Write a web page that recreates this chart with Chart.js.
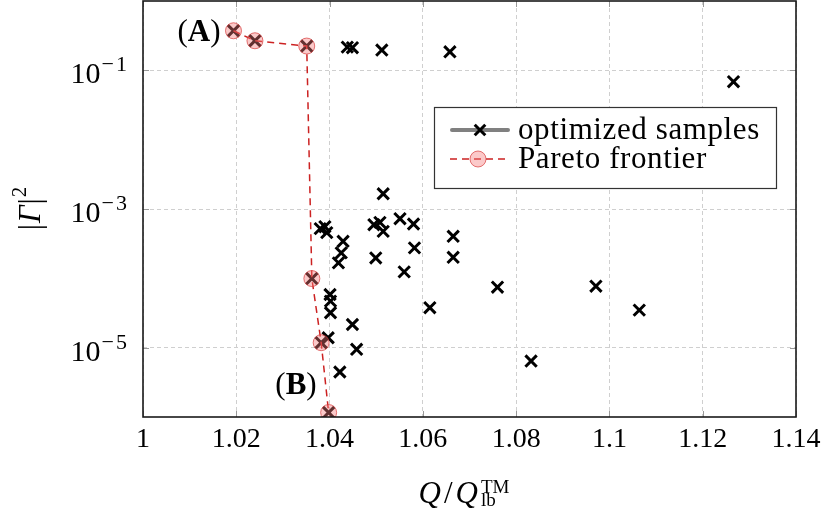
<!DOCTYPE html>
<html>
<head>
<meta charset="utf-8">
<script src="https://cdn.jsdelivr.net/npm/chart.js@4"></script>
<style>
html, body { margin: 0; padding: 0; background: #fff; }
</style>
</head>
<body>
<canvas id="myChart" width="831" height="526"></canvas>
<script>
// optimized samples (Q/Q_lb, |Gamma|^2)
var sampleQ = [1.0438, 1.0449, 1.0512, 1.0658, 1.1266,
  1.0515, 1.0380, 1.0390, 1.0394, 1.0429, 1.0425, 1.0419,
  1.0495, 1.0508, 1.0515, 1.0551, 1.0580, 1.0582, 1.0499, 1.0560,
  1.0665, 1.0665, 1.0760, 1.0615, 1.0832, 1.0971, 1.1064,
  1.0401, 1.0402, 1.0402, 1.0449, 1.0397, 1.0458, 1.0422];
var sampleG = [0.216, 0.212, 0.196, 0.185, 0.0686,
  1.66e-3, 5.21e-4, 5.56e-4, 4.56e-4, 3.42e-4, 2.33e-4, 1.67e-4,
  5.94e-4, 6.41e-4, 4.76e-4, 7.25e-4, 6.08e-4, 2.75e-4, 1.97e-4, 1.24e-4,
  4.04e-4, 2.01e-4, 7.45e-5, 3.77e-5, 6.41e-6, 7.7e-5, 3.48e-5,
  5.85e-5, 4.69e-5, 3.19e-5, 2.16e-5, 1.39e-5, 9.46e-6, 4.46e-6];

// pareto frontier (these are samples too)
var paretoQ = [1.0194, 1.0240, 1.0351, 1.0362, 1.0382, 1.0398];
var paretoG = [0.372, 0.267, 0.224, 9.93e-5, 1.18e-5, 1.16e-6];

var xTicks = [1, 1.02, 1.04, 1.06, 1.08, 1.1, 1.12, 1.14];
var xTickLabels = ['1', '1.02', '1.04', '1.06', '1.08', '1.1', '1.12', '1.14'];
var yTicks = [1e-5, 1e-3, 1e-1];
var yTickExp = ['\u22125', '\u22123', '\u22121'];

var legendLabels = ['optimized samples', 'Pareto frontier'];

var serif = '"Liberation Serif", "DejaVu Serif", serif';

function toPoints(xs, ys) {
  var pts = [];
  for (var i = 0; i < xs.length; i++) pts.push({ x: xs[i], y: ys[i] });
  return pts;
}

var samplePts = toPoints(sampleQ, sampleG).concat(toPoints(paretoQ, paretoG));
var paretoPts = toPoints(paretoQ, paretoG);

// frame, inner tick marks, y tick labels, axis titles, legend, (A)/(B)
var decor = {
  id: 'decor',
  beforeDatasetsDraw: function (chart) {
    var ctx = chart.ctx, a = chart.chartArea;
    var xs = chart.scales.x, ys = chart.scales.y;
    ctx.save();
    ctx.strokeStyle = '#999';
    ctx.lineWidth = 1;
    ctx.beginPath();
    xTicks.forEach(function (v) {
      var px = Math.round(xs.getPixelForValue(v)) + 0.5;
      ctx.moveTo(px, a.bottom); ctx.lineTo(px, a.bottom - 6);
      ctx.moveTo(px, a.top); ctx.lineTo(px, a.top + 6);
    });
    yTicks.forEach(function (v) {
      var py = Math.round(ys.getPixelForValue(v)) + 0.5;
      ctx.moveTo(a.left, py); ctx.lineTo(a.left + 6, py);
      ctx.moveTo(a.right, py); ctx.lineTo(a.right - 6, py);
    });
    ctx.stroke();
    ctx.restore();
  },
  afterDraw: function (chart) {
    var ctx = chart.ctx, a = chart.chartArea;
    var xs = chart.scales.x, ys = chart.scales.y;
    ctx.save();

    // frame
    ctx.strokeStyle = '#1a1a1a';
    ctx.lineWidth = 1.6;
    ctx.strokeRect(a.left, a.top, a.right - a.left, a.bottom - a.top);

    ctx.fillStyle = '#000';
    ctx.textBaseline = 'alphabetic';
    var big = '31px ' + serif, bigIt = 'italic 31px ' + serif;

    // y tick labels 10^-k
    yTicks.forEach(function (v, i) {
      var py = ys.getPixelForValue(v);
      ctx.font = '22px ' + serif;
      ctx.letterSpacing = '2px';
      var ew = ctx.measureText(yTickExp[i]).width;
      ctx.fillText(yTickExp[i], 129 - ew, py + 1);
      ctx.letterSpacing = '0px';
      ctx.font = '30px ' + serif;
      var bw = ctx.measureText('10').width;
      ctx.fillText('10', 129 - ew - bw - 1, py + 13);
    });

    // y title |Γ|^2
    ctx.save();
    ctx.translate(40, 208);
    ctx.rotate(-Math.PI / 2);
    var ytitle = [['|', '31px ' + serif, 0], ['\u0393', 'italic 31px ' + serif, 0], ['|', '31px ' + serif, 0], ['2', '21px ' + serif, -14]];
    var w = 0;
    ytitle.forEach(function (p) { ctx.font = p[1]; w += ctx.measureText(p[0]).width + 1; });
    var cx = -w / 2;
    ytitle.forEach(function (p) {
      ctx.font = p[1];
      ctx.fillText(p[0], cx, p[2]);
      cx += ctx.measureText(p[0]).width + 1;
    });
    ctx.restore();

    // x title Q/Q_lb^TM
    var xp = [['Q', bigIt], ['/', big], ['Q', bigIt]];
    var qw = 0;
    xp.forEach(function (p) { ctx.font = p[1]; qw += ctx.measureText(p[0]).width + 3; });
    ctx.font = '19px ' + serif;
    var sw = ctx.measureText('TM').width;
    var x0 = 465 - (qw + sw + 2) / 2, base = 503;
    xp.forEach(function (p) {
      ctx.font = p[1];
      ctx.fillText(p[0], x0, base);
      x0 += ctx.measureText(p[0]).width + 3;
    });
    ctx.font = '19px ' + serif;
    ctx.fillText('TM', x0, base - 10);
    ctx.fillText('lb', x0, base + 3);

    // (A) and (B)
    function tag(letter, rightX, midY) {
      var segs = [['(', '31px ' + serif], [letter, 'bold 31px ' + serif], [')', '31px ' + serif]];
      var tw = 0;
      segs.forEach(function (s) { ctx.font = s[1]; tw += ctx.measureText(s[0]).width; });
      var tx = rightX - tw;
      ctx.textBaseline = 'middle';
      segs.forEach(function (s) {
        ctx.font = s[1];
        ctx.fillText(s[0], tx, midY);
        tx += ctx.measureText(s[0]).width;
      });
      ctx.textBaseline = 'alphabetic';
    }
    var pA = paretoPts[0], pB = paretoPts[paretoPts.length - 1];
    tag('A', xs.getPixelForValue(pA.x) - 13, ys.getPixelForValue(pA.y) + 2);
    tag('B', xs.getPixelForValue(pB.x) - 12, ys.getPixelForValue(pB.y) - 27);

    // legend
    var L = 434, T = 107, R = 776, B = 188;
    ctx.fillStyle = '#fff';
    ctx.fillRect(L, T, R - L, B - T);
    ctx.strokeStyle = '#333';
    ctx.lineWidth = 1.2;
    ctx.strokeRect(L + 0.5, T + 0.5, R - L, B - T);

    var y1 = 130, y2 = 159;
    ctx.strokeStyle = '#808080';
    ctx.lineWidth = 4;
    ctx.lineCap = 'round';
    ctx.beginPath(); ctx.moveTo(452, y1); ctx.lineTo(508, y1); ctx.stroke();
    ctx.lineCap = 'butt';
    ctx.strokeStyle = '#000';
    ctx.lineWidth = 3;
    Chart.helpers.drawPoint(ctx, { pointStyle: 'crossRot', radius: 7.5, borderWidth: 3 }, 480, y1);

    ctx.strokeStyle = '#cc2222';
    ctx.lineWidth = 1.5;
    ctx.setLineDash([7, 5]);
    ctx.beginPath(); ctx.moveTo(450, y2); ctx.lineTo(508, y2); ctx.stroke();
    ctx.setLineDash([]);
    ctx.fillStyle = 'rgba(245, 120, 120, 0.4)';
    ctx.strokeStyle = 'rgba(215, 60, 60, 0.7)';
    ctx.lineWidth = 1;
    ctx.beginPath(); ctx.arc(478, y2, 8, 0, Math.PI * 2); ctx.fill(); ctx.stroke();

    ctx.fillStyle = '#000';
    ctx.font = '31px ' + serif;
    ctx.letterSpacing = '0.6px';
    ctx.fillText(legendLabels[0], 518, 139);
    ctx.fillText(legendLabels[1], 518, 168);
    ctx.letterSpacing = '0px';

    ctx.restore();
  }
};

var ctx = document.getElementById('myChart');
var myChart = new Chart(ctx, {
  type: 'scatter',
  data: {
    datasets: [
      {
        label: legendLabels[1],
        data: paretoPts,
        showLine: true,
        borderColor: '#cc2222',
        borderWidth: 1.5,
        borderDash: [7, 5],
        pointRadius: 8,
        pointHoverRadius: 8,
        pointBackgroundColor: 'rgba(245, 120, 120, 0.4)',
        pointBorderColor: 'rgba(215, 60, 60, 0.7)',
        pointBorderWidth: 1,
        order: 0
      },
      {
        label: legendLabels[0],
        data: samplePts,
        pointStyle: 'crossRot',
        pointRadius: 8,
        pointHoverRadius: 8,
        pointBorderWidth: 3,
        borderColor: '#000',
        backgroundColor: '#000',
        order: 1
      }
    ]
  },
  options: {
    responsive: false,
    animation: false,
    layout: { autoPadding: false, padding: { top: 1, right: 35, left: 0, bottom: 0 } },
    plugins: {
      legend: { display: false },
      tooltip: { enabled: false }
    },
    scales: {
      x: {
        type: 'linear',
        min: 1,
        max: 1.14,
        afterBuildTicks: function (axis) {
          axis.ticks = xTicks.map(function (v) { return { value: v }; });
        },
        afterFit: function (axis) {
          axis.height = 109;
          axis.paddingLeft = 0;
          axis.paddingRight = 0;
        },
        ticks: {
          padding: 6,
          maxRotation: 0,
          color: '#000',
          font: { family: serif, size: 28 },
          callback: function (v) { return xTickLabels[xTicks.indexOf(Math.round(v * 100) / 100)]; }
        },
        grid: { color: '#cfcfcf', lineWidth: 1, drawTicks: false },
        border: { display: false, dash: [4, 3] }
      },
      y: {
        type: 'logarithmic',
        min: 1e-6,
        max: 1,
        afterBuildTicks: function (axis) {
          axis.ticks = yTicks.map(function (v) { return { value: v }; });
        },
        afterFit: function (axis) {
          axis.width = 143;
          axis.paddingTop = 0;
          axis.paddingBottom = 0;
        },
        ticks: { display: false },
        grid: { color: '#cfcfcf', lineWidth: 1, drawTicks: false },
        border: { display: false, dash: [4, 3] }
      }
    }
  },
  plugins: [decor]
});
</script>
</body>
</html>
